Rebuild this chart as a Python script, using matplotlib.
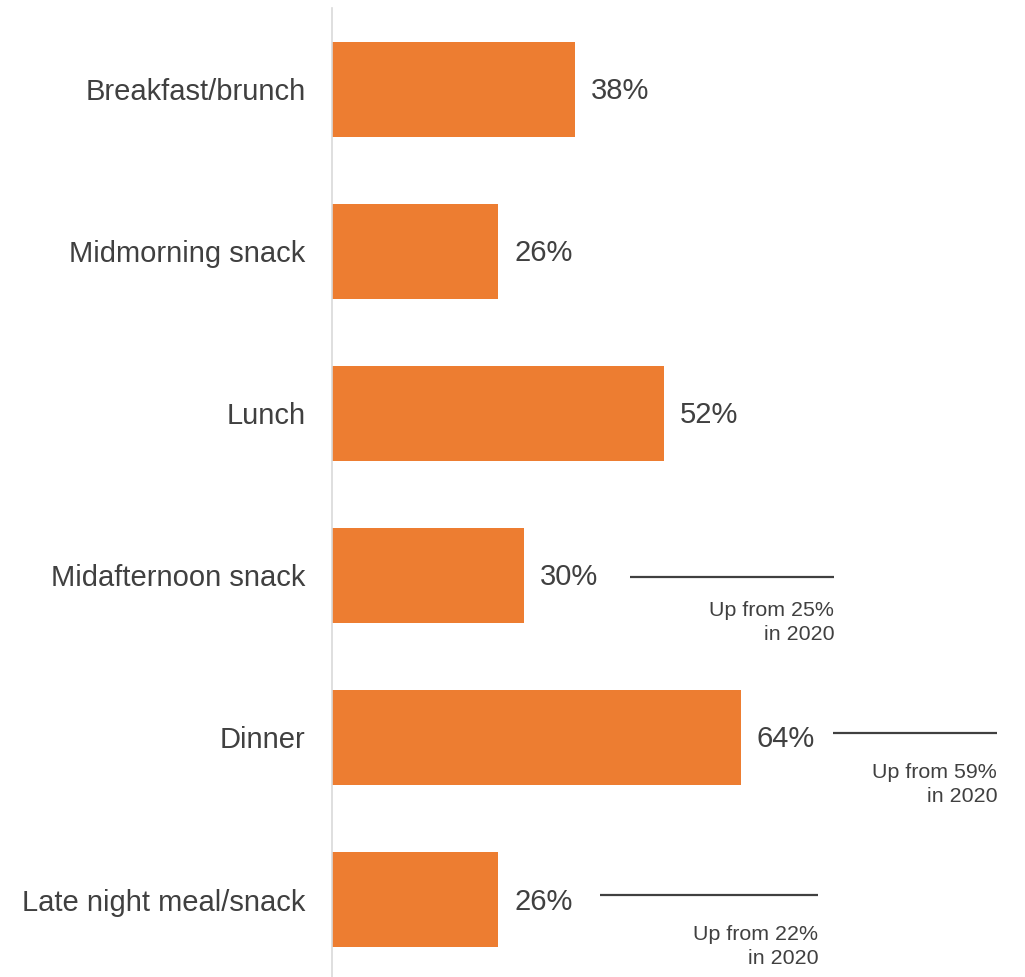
import matplotlib.pyplot as plt
import numpy as np

plt.rcParams["font.family"] = ["Liberation Sans", "DejaVu Sans"]

categories = [
    "Breakfast/brunch",
    "Midmorning snack",
    "Lunch",
    "Midafternoon snack",
    "Dinner",
    "Late night meal/snack",
]
values = [38, 26, 52, 30, 64, 26]

# previous-year notes: category index -> 2020 value
note_idx = [3, 4, 5]
note_prev = [25, 59, 22]

# annotation line layout: x span (data units) and y shift from the bar centre
note_spans = [(46.6, 78.6), (78.4, 104.1), (41.9, 76.1)]
note_dy = [0.01, -0.028, -0.028]

ORANGE = "#ED7D31"
TEXT = "#404040"

fig = plt.figure(figsize=(10.25, 9.77), dpi=100)
ax = fig.add_axes([332 / 1025, 0, 693 / 1025, 969 / 977])

y = np.arange(len(categories))
ax.barh(y, values, height=0.586, color=ORANGE, zorder=2)

for yi, v in zip(y, values):
    ax.annotate(f"{v}%", (v, yi), xytext=(16, -2), textcoords="offset pixels",
                va="center", ha="left", fontsize=21, color=TEXT)

for i, prev, (x0, x1), dy in zip(note_idx, note_prev, note_spans, note_dy):
    ly = i + dy
    ax.plot([x0, x1], [ly, ly], color=TEXT, linewidth=1.6, solid_capstyle="butt")
    ax.text(x1, i + 0.16, f"Up from {prev}%\nin 2020", ha="right", va="top",
            fontsize=15.4, color=TEXT, linespacing=1.3)

ax.set_xlim(0, 693 / 6.39)
ax.set_ylim(5.478, -0.5)
ax.set_yticks(y)
ax.set_yticklabels(categories, fontsize=21, color=TEXT)
ax.tick_params(axis="y", length=0, pad=19)
ax.set_xticks([])

for s in ["top", "right", "bottom"]:
    ax.spines[s].set_visible(False)
ax.spines["left"].set_color("#d9d9d9")
ax.spines["left"].set_linewidth(1.2)

fig.savefig("out.png", dpi=100)
